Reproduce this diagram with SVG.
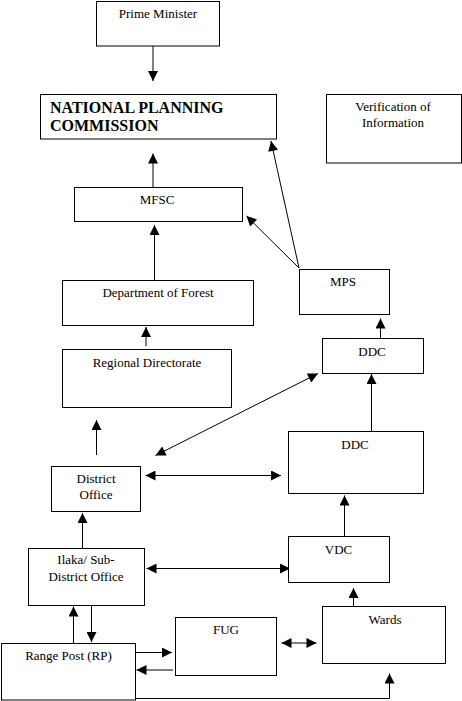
<svg xmlns="http://www.w3.org/2000/svg" width="462" height="701" viewBox="0 0 462 701">
<style>
.box{fill:#fff;stroke:#000;stroke-width:1}
.t{font-family:'Liberation Serif','DejaVu Serif',serif;font-size:13px;fill:#000;text-anchor:middle}
.b{font-family:'Liberation Serif','DejaVu Serif',serif;font-size:16px;font-weight:bold;fill:#000}
.c{fill:none;stroke:#000;stroke-width:1}
</style>
<defs>
<marker id="ah" markerUnits="userSpaceOnUse" markerWidth="11" markerHeight="10" refX="10" refY="5" orient="auto-start-reverse" viewBox="0 0 10 10">
<path d="M0,0 L10,5 L0,10 z" fill="#000"/>
</marker>
</defs>
<rect width="462" height="701" fill="#fff"/>
<g id="connectors">
<line class="c" x1="153" y1="46" x2="153" y2="81" marker-end="url(#ah)"/>
<line class="c" x1="153" y1="187" x2="153" y2="153.5" marker-end="url(#ah)"/>
<line class="c" x1="154.5" y1="280" x2="154.5" y2="225" marker-end="url(#ah)"/>
<line class="c" x1="146" y1="346" x2="146" y2="327" marker-end="url(#ah)"/>
<line class="c" x1="96.5" y1="455" x2="96.5" y2="420" marker-end="url(#ah)"/>
<line class="c" x1="299" y1="268" x2="271" y2="141" marker-end="url(#ah)"/>
<line class="c" x1="299" y1="268" x2="246.5" y2="216" marker-end="url(#ah)"/>
<line class="c" x1="380.5" y1="338" x2="380.5" y2="318.5" marker-end="url(#ah)"/>
<line class="c" x1="371.5" y1="431" x2="371.5" y2="374" marker-end="url(#ah)"/>
<line class="c" x1="155.5" y1="455.5" x2="318" y2="373.5" marker-start="url(#ah)" marker-end="url(#ah)"/>
<line class="c" x1="145.5" y1="475.5" x2="281" y2="475.5" marker-start="url(#ah)" marker-end="url(#ah)"/>
<line class="c" x1="344.5" y1="536" x2="344.5" y2="495.5" marker-end="url(#ah)"/>
<line class="c" x1="82.5" y1="548" x2="82.5" y2="513" marker-end="url(#ah)"/>
<line class="c" x1="146.5" y1="568.5" x2="290" y2="568.5" marker-start="url(#ah)" marker-end="url(#ah)"/>
<line class="c" x1="353.5" y1="606" x2="353.5" y2="588" marker-end="url(#ah)"/>
<line class="c" x1="73.5" y1="643" x2="73.5" y2="606.5" marker-end="url(#ah)"/>
<line class="c" x1="91.5" y1="605" x2="91.5" y2="642" marker-end="url(#ah)"/>
<line class="c" x1="135" y1="652.5" x2="172" y2="652.5" marker-end="url(#ah)"/>
<line class="c" x1="173" y1="670" x2="136.5" y2="670" marker-end="url(#ah)"/>
<line class="c" x1="281.5" y1="643" x2="316.5" y2="643" marker-start="url(#ah)" marker-end="url(#ah)"/>
<path class="c" d="M135,698.5 H389.5 V673.5" marker-end="url(#ah)"/>
</g>
<g id="pm"><rect class="box" x="96.5" y="1.5" width="123" height="44.5"/><text class="t" x="158" y="18">Prime Minister</text></g>
<g id="npc"><rect class="box" x="40.5" y="94.5" width="236" height="44.5"/><text class="b" x="50" y="113">NATIONAL PLANNING</text><text class="b" x="50" y="131">COMMISSION</text></g>
<g id="verification"><rect class="box" x="326.5" y="94.5" width="135" height="68.5"/><text class="t" x="393" y="111">Verification of</text><text class="t" x="393" y="127">Information</text></g>
<g id="mfsc"><rect class="box" x="74.5" y="187.5" width="168" height="34"/><text class="t" x="157" y="204">MFSC</text></g>
<g id="mps"><rect class="box" x="299.5" y="269.5" width="90" height="45"/><text class="t" x="343" y="286">MPS</text></g>
<g id="dof"><rect class="box" x="62.5" y="280.5" width="191" height="45"/><text class="t" x="158" y="297">Department of Forest</text></g>
<g id="rd"><rect class="box" x="62.5" y="349.5" width="169" height="58"/><text class="t" x="147" y="367">Regional Directorate</text></g>
<g id="ddc1"><rect class="box" x="322.5" y="338.5" width="101" height="35"/><text class="t" x="372" y="356">DDC</text></g>
<g id="ddc2"><rect class="box" x="288.5" y="431.5" width="135" height="62"/><text class="t" x="355" y="448.5">DDC</text></g>
<g id="district"><rect class="box" x="51.5" y="466.5" width="89" height="45"/><text class="t" x="96" y="483">District</text><text class="t" x="96" y="498.5">Office</text></g>
<g id="vdc"><rect class="box" x="288.5" y="536.5" width="101" height="46"/><text class="t" x="338.5" y="553.5">VDC</text></g>
<g id="ilaka"><rect class="box" x="28.5" y="548.5" width="116" height="57"/><text class="t" x="86" y="564">Ilaka/ Sub-</text><text class="t" x="86" y="581">District Office</text></g>
<g id="wards"><rect class="box" x="322.5" y="606.5" width="123" height="57"/><text class="t" x="385" y="623.5">Wards</text></g>
<g id="fug"><rect class="box" x="175.5" y="617.5" width="101" height="58"/><text class="t" x="226" y="634">FUG</text></g>
<g id="rp"><rect class="box" x="1.5" y="643.5" width="134" height="56.5"/><text class="t" x="68.5" y="660">Range Post (RP)</text></g>
</svg>
